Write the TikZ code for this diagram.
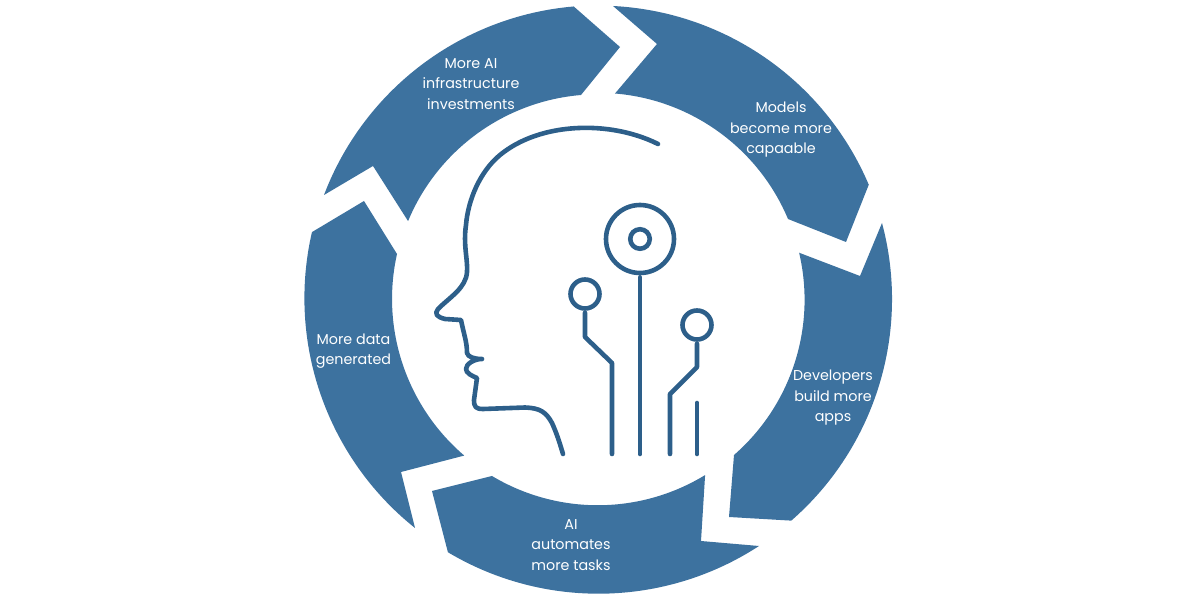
\documentclass[tikz,border=0pt]{standalone}
\usepackage{fontspec}
\setmainfont{Poppins}
\definecolor{ringblue}{HTML}{3D729F}
\definecolor{lineblue}{HTML}{2D5F8A}
\tikzset{
	ringpart/.style={fill=ringblue},
	trace/.style={draw=lineblue,line width=4.6pt,line cap=round,line join=round},
	pad/.style={shape=circle,draw=lineblue,line width=4.6pt,inner sep=0pt},
	caption/.style={text=white,align=center,font=\fontsize{14.3}{20.5}\selectfont,inner sep=0pt}
}

\begin{document}
\begin{tikzpicture}[x=1pt,y=1pt]
	\useasboundingbox (0,0) rectangle (1200,600);

	\fill[ringpart] (324,405) arc[start angle=159.2,end angle=94.9,radius=294] -- (620,553) -- (581,505) arc[start angle=94.8,end angle=157.4,radius=206] -- (373,434) -- cycle;
	\fill[ringpart] (613,594) arc[start angle=87.1,end angle=23,radius=294] -- (846,358) -- (788,381) arc[start angle=22.8,end angle=85.3,radius=206] -- (657,556) -- cycle;
	\fill[ringpart] (882,377) arc[start angle=15,end angle=-48.9,radius=294] -- (729,83) -- (734,145) arc[start angle=-48.9,end angle=13.2,radius=206] -- (860,324) -- cycle;
	\fill[ringpart] (759,54) arc[start angle=-56.9,end angle=-120.8,radius=294] -- (432,109) -- (492,124) arc[start angle=-120.9,end angle=-58.6,radius=206] -- (701,59) -- cycle;
	\fill[ringpart] (415,72) arc[start angle=231.4,end angle=167,radius=294] -- (364,399) -- (397,346) arc[start angle=167.4,end angle=229.5,radius=206] -- (401,128) -- cycle;

	\node[caption] (invest) at (471,516) {More AI\\infrastructure\\investments};
	\node[caption] (models) at (781,470) {Models\\become more\\capaable};
	\node[caption] (apps) at (833,202) {Developers\\build more\\apps};
	\node[caption] (tasks) at (571,55) {AI\\automates\\more tasks};
	\node[caption] (data) at (353.5,249) {More data\\generated};

	% head
	\draw[trace] (658,456) .. controls (610,480) and (540,478) .. (500,445)
		.. controls (480,428.5) and (468,400) .. (466,375)
		.. controls (463,355) and (468,340) .. (467,328)
		.. controls (466,312) and (450,303) .. (438,291)
		.. controls (434,286) and (437,283) .. (445,281)
		-- (461,280)
		.. controls (464,265) and (467,258) .. (467,247)
		.. controls (468,243) and (474,241) .. (482,241)
		.. controls (474,241) and (466,236) .. (466,231)
		.. controls (466,227) and (472,224) .. (477,222)
		-- (474,200)
		.. controls (474,193) and (476,191) .. (483,191)
		-- (525,192.5)
		.. controls (540,192) and (546,188) .. (552,177)
		.. controls (557,166) and (560,156) .. (563,146);

	% circuit
	\node[pad,minimum size=68pt] (bigpad) at (640,361) {};
	\node[pad,minimum size=19.5pt] (corepad) at (640,361) {};
	\node[pad,minimum size=29pt] (leftpad) at (585,306) {};
	\node[pad,minimum size=29pt] (rightpad) at (697,275) {};
	\coordinate (midend) at (640,146);
	\coordinate (leftend) at (612,146);
	\coordinate (rightend) at (670,146);
	\coordinate (shorttop) at (697,197);
	\coordinate (shortend) at (697,146);

	\draw[trace,shorten <=2pt] (bigpad) -- (midend);
	\draw[trace,shorten <=2pt] (leftpad.south) -- (585,263) -- (612,237) -- (leftend);
	\draw[trace,shorten <=2pt] (rightpad.south) -- (697,233) -- (670,206) -- (rightend);
	\draw[trace] (shorttop) -- (shortend);
\end{tikzpicture}
\end{document}
